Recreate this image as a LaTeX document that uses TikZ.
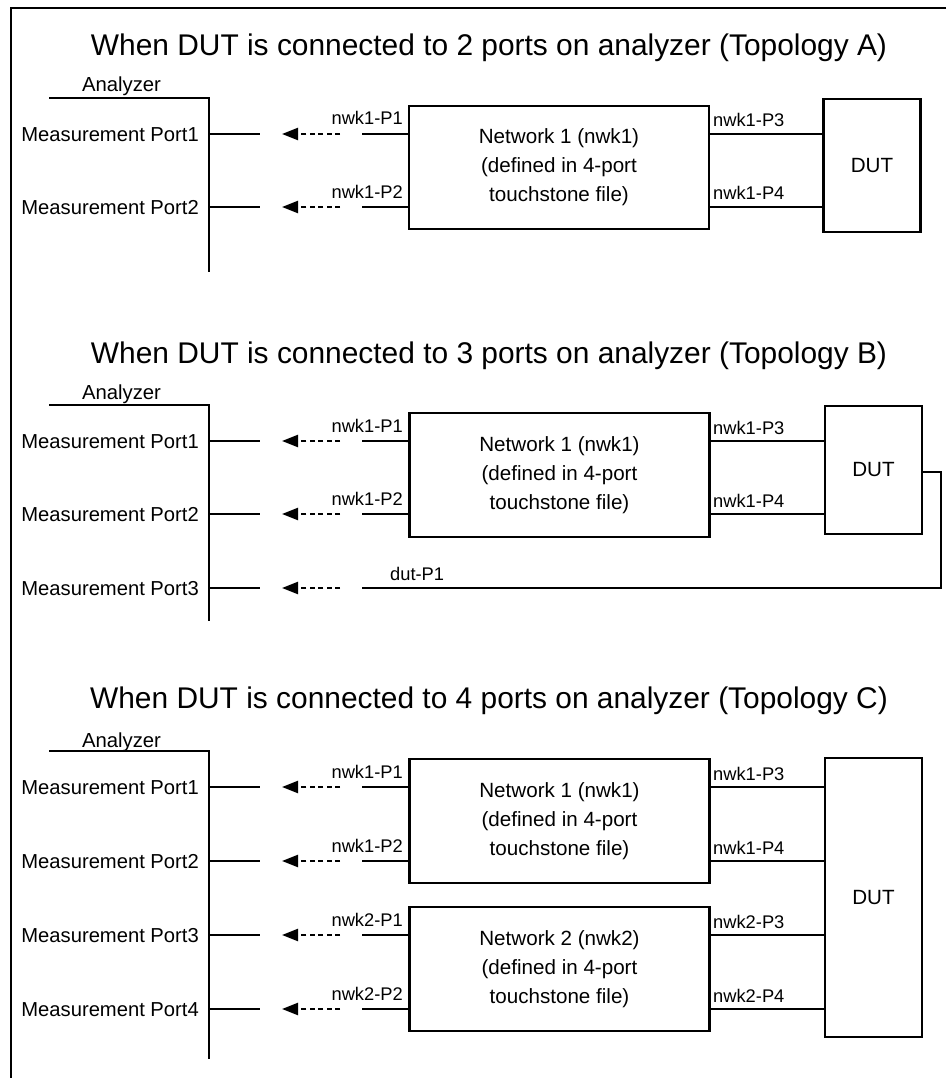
\documentclass[tikz,border=0pt]{standalone}
\usepackage{fontspec}
\setmainfont{Liberation Sans}
\usetikzlibrary{arrows.meta}
\newcommand\fsz[2]{\fontsize{#1}{#2}\selectfont}
\tikzset{
 wire/.style={line width=2.4pt},
 frameline/.style={line width=2.8pt},
 darrow/.style={line width=2.2pt, dash pattern=on 5pt off 3.4pt, -{Triangle[length=16pt,width=12pt]}},
 netbox/.style={draw, line width=2.4pt, minimum width=300pt, inner sep=0pt, align=center, font=\fsz{20.6}{29}},
 dutbox/.style={draw, line width=2.4pt, minimum width=97pt, inner sep=0pt, font=\fsz{20.6}{24}},
 ttl/.style={font=\fsz{29.9}{34}, inner sep=0pt, anchor=base},
 plabel/.style={font=\fsz{20.2}{24}, inner sep=0pt, anchor=base east},
 anlabel/.style={font=\fsz{20.3}{24}, inner sep=0pt, anchor=base},
 llabel/.style={font=\fsz{18.3}{22}, inner sep=0pt, anchor=base east},
 rlabel/.style={font=\fsz{18.3}{22}, inner sep=0pt, anchor=base west},
}
% analyzer port row: #1 name, #2 y, #3 text
\newcommand\portrow[3]{%
  \coordinate (#1a) at (209,#2);
  \coordinate (#1s) at (260,#2);
  \coordinate (#1t) at (282,#2);
  \coordinate (#1d) at (340,#2);
  \coordinate (#1n) at (362,#2);
  \node[plabel] (#1lab) at (199,#2+7.5) {#3};
  \draw[wire] (#1a) -- (#1s);
  \draw[darrow] (#1d) -- (#1t);
}
\begin{document}
\begin{tikzpicture}[x=1pt,y=-1pt]
\useasboundingbox (0,0) rectangle (946,1078);
\draw[frameline] (946,8) -- (11,8) -- (11,1078);

% ================= Topology A =================
\node[ttl] (tA) at (489,56) {When DUT is connected to 2 ports on analyzer (Topology A)};
\node[anlabel] (anA) at (121.5,92) {Analyzer};
\coordinate (Atl) at (49,98);
\coordinate (Atr) at (209,98);
\coordinate (Abot) at (209,272);
\draw[wire] (Atl) -- (Atr) -- (Abot);
\portrow{Ap1}{134}{Measurement Port1}
\portrow{Ap2}{207}{Measurement Port2}
\node[netbox, minimum height=123pt] (nA) at (559,167.5) {Network 1 (nwk1)\\(defined in 4-port\\touchstone file)};
\node[dutbox, minimum height=133pt] (dA) at (872,165.5) {DUT};
\draw[wire] (Ap1n) -- (Ap1n -| nA.west);
\draw[wire] (Ap2n) -- (Ap2n -| nA.west);
\draw[wire] (Ap1n -| nA.east) -- (Ap1n -| dA.west);
\draw[wire] (Ap2n -| nA.east) -- (Ap2n -| dA.west);
\node[llabel] (lA1) at (403,125) {nwk1-P1};
\node[llabel] (lA2) at (403,198) {nwk1-P2};
\node[rlabel] (rA3) at (713,127) {nwk1-P3};
\node[rlabel] (rA4) at (713,200) {nwk1-P4};

% ================= Topology B =================
\node[ttl] (tB) at (489,363) {When DUT is connected to 3 ports on analyzer (Topology B)};
\node[anlabel] (anB) at (121.5,399) {Analyzer};
\coordinate (Btl) at (49,405);
\coordinate (Btr) at (209,405);
\coordinate (Bbot) at (209,621);
\draw[wire] (Btl) -- (Btr) -- (Bbot);
\portrow{Bp1}{441}{Measurement Port1}
\portrow{Bp2}{514}{Measurement Port2}
\portrow{Bp3}{588}{Measurement Port3}
\node[netbox, minimum height=124pt] (nB) at (559.5,475) {Network 1 (nwk1)\\(defined in 4-port\\touchstone file)};
\node[dutbox, minimum height=128pt] (dB) at (873.5,470) {DUT};
\draw[wire] (Bp1n) -- (Bp1n -| nB.west);
\draw[wire] (Bp2n) -- (Bp2n -| nB.west);
\draw[wire] (Bp1n -| nB.east) -- (Bp1n -| dB.west);
\draw[wire] (Bp2n -| nB.east) -- (Bp2n -| dB.west);
\coordinate (Bc) at (941,472);
\draw[wire] (Bc -| dB.east) -- (Bc) |- (Bp3n);
\node[llabel] (lB1) at (403,432) {nwk1-P1};
\node[llabel] (lB2) at (403,505) {nwk1-P2};
\node[rlabel] (rB3) at (713,434) {nwk1-P3};
\node[rlabel] (rB4) at (713,507) {nwk1-P4};
\node[rlabel] (rB5) at (390,580) {dut-P1};

% ================= Topology C =================
\node[ttl] (tC) at (489,708) {When DUT is connected to 4 ports on analyzer (Topology C)};
\node[anlabel] (anC) at (121.5,747) {Analyzer};
\coordinate (Ctl) at (49,751);
\coordinate (Ctr) at (209,751);
\coordinate (Cbot) at (209,1059);
\draw[wire] (Ctl) -- (Ctr) -- (Cbot);
\portrow{Cp1}{787}{Measurement Port1}
\portrow{Cp2}{861}{Measurement Port2}
\portrow{Cp3}{935}{Measurement Port3}
\portrow{Cp4}{1009}{Measurement Port4}
\node[netbox, minimum height=124pt] (nC1) at (559.5,821) {Network 1 (nwk1)\\(defined in 4-port\\touchstone file)};
\node[netbox, minimum height=124pt] (nC2) at (559.5,969) {Network 2 (nwk2)\\(defined in 4-port\\touchstone file)};
\node[dutbox, minimum height=279pt] (dC) at (873.5,897.5) {DUT};
\draw[wire] (Cp1n) -- (Cp1n -| nC1.west);
\draw[wire] (Cp2n) -- (Cp2n -| nC1.west);
\draw[wire] (Cp3n) -- (Cp3n -| nC2.west);
\draw[wire] (Cp4n) -- (Cp4n -| nC2.west);
\draw[wire] (Cp1n -| nC1.east) -- (Cp1n -| dC.west);
\draw[wire] (Cp2n -| nC1.east) -- (Cp2n -| dC.west);
\draw[wire] (Cp3n -| nC2.east) -- (Cp3n -| dC.west);
\draw[wire] (Cp4n -| nC2.east) -- (Cp4n -| dC.west);
\node[llabel] (lC1) at (403,778) {nwk1-P1};
\node[llabel] (lC2) at (403,852) {nwk1-P2};
\node[llabel] (lC3) at (403,926) {nwk2-P1};
\node[llabel] (lC4) at (403,1000) {nwk2-P2};
\node[rlabel] (rC1) at (713,780) {nwk1-P3};
\node[rlabel] (rC2) at (713,854) {nwk1-P4};
\node[rlabel] (rC3) at (713,928) {nwk2-P3};
\node[rlabel] (rC4) at (713,1002) {nwk2-P4};
\end{tikzpicture}
\end{document}
